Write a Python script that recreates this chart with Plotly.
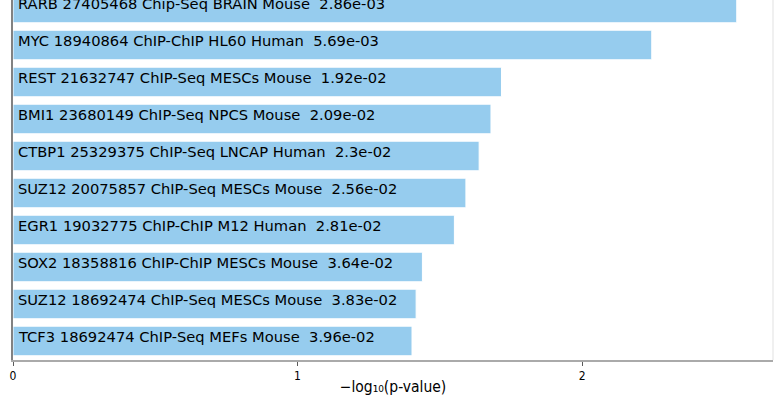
import math
import plotly.graph_objects as go

# Enrichment terms, top to bottom, with their p-values
terms = [
    "RARB 27405468 Chip-Seq BRAIN Mouse",
    "MYC 18940864 ChIP-ChIP HL60 Human",
    "REST 21632747 ChIP-Seq MESCs Mouse",
    "BMI1 23680149 ChIP-Seq NPCS Mouse",
    "CTBP1 25329375 ChIP-Seq LNCAP Human",
    "SUZ12 20075857 ChIP-Seq MESCs Mouse",
    "EGR1 19032775 ChIP-ChIP M12 Human",
    "SOX2 18358816 ChIP-ChIP MESCs Mouse",
    "SUZ12 18692474 ChIP-Seq MESCs Mouse",
    "TCF3 18692474 ChIP-Seq MEFs Mouse",
]
p_labels = ["2.86e-03", "5.69e-03", "1.92e-02", "2.09e-02", "2.3e-02",
            "2.56e-02", "2.81e-02", "3.64e-02", "3.83e-02", "3.96e-02"]
p_values = [float(p) for p in p_labels]

scores = [-math.log10(p) for p in p_values]
positions = list(range(len(terms)))

BAR = "rgb(150,204,238)"

fig = go.Figure()
fig.add_trace(go.Bar(
    x=scores, y=positions, orientation="h",
    marker=dict(color=BAR, line=dict(color="white", width=1)),
    width=0.8, hoverinfo="skip",
))

for pos, term, p in zip(positions, terms, p_labels):
    fig.add_annotation(
        x=0, y=pos, xref="x", yref="y",
        text=f"{term}\u00a0\u00a0{p}",
        showarrow=False, xanchor="left", yanchor="middle",
        xshift=3, yshift=4,
        font=dict(family="DejaVu Sans", size=14.7, color="black"),
    )

fig.add_shape(type="line", xref="paper", yref="paper", x0=1, x1=1, y0=0, y1=1,
              line=dict(color="rgb(225,225,225)", width=1))

fig.update_layout(
    width=778, height=396,
    margin=dict(l=13, r=5, t=0, b=36),
    paper_bgcolor="white", plot_bgcolor="white",
    showlegend=False,
    bargap=0.2,
    xaxis=dict(
        range=[0, 2.671], tickvals=[0, 1, 2], ticktext=["0", "1", "2"],
        showgrid=False, zeroline=False,
        showline=True, linecolor="rgb(170,170,170)", linewidth=2,
        ticks="outside", ticklen=4, tickcolor="rgb(90,90,90)", tickwidth=1,
        tickfont=dict(family="DejaVu Sans Condensed, DejaVu Sans", size=12, color="black"),
        title=dict(text="\u2212log\u2081\u2080(p-value)", standoff=1,
                   font=dict(family="DejaVu Sans Condensed, DejaVu Sans", size=15.5, color="black")),
        automargin=False,
    ),
    yaxis=dict(
        range=[9.514, -0.216], showticklabels=False, showgrid=False, zeroline=False,
        showline=True, linecolor="rgb(130,130,130)", linewidth=1.5, ticks="",
        automargin=False,
    ),
)

fig.write_html("out.html")
